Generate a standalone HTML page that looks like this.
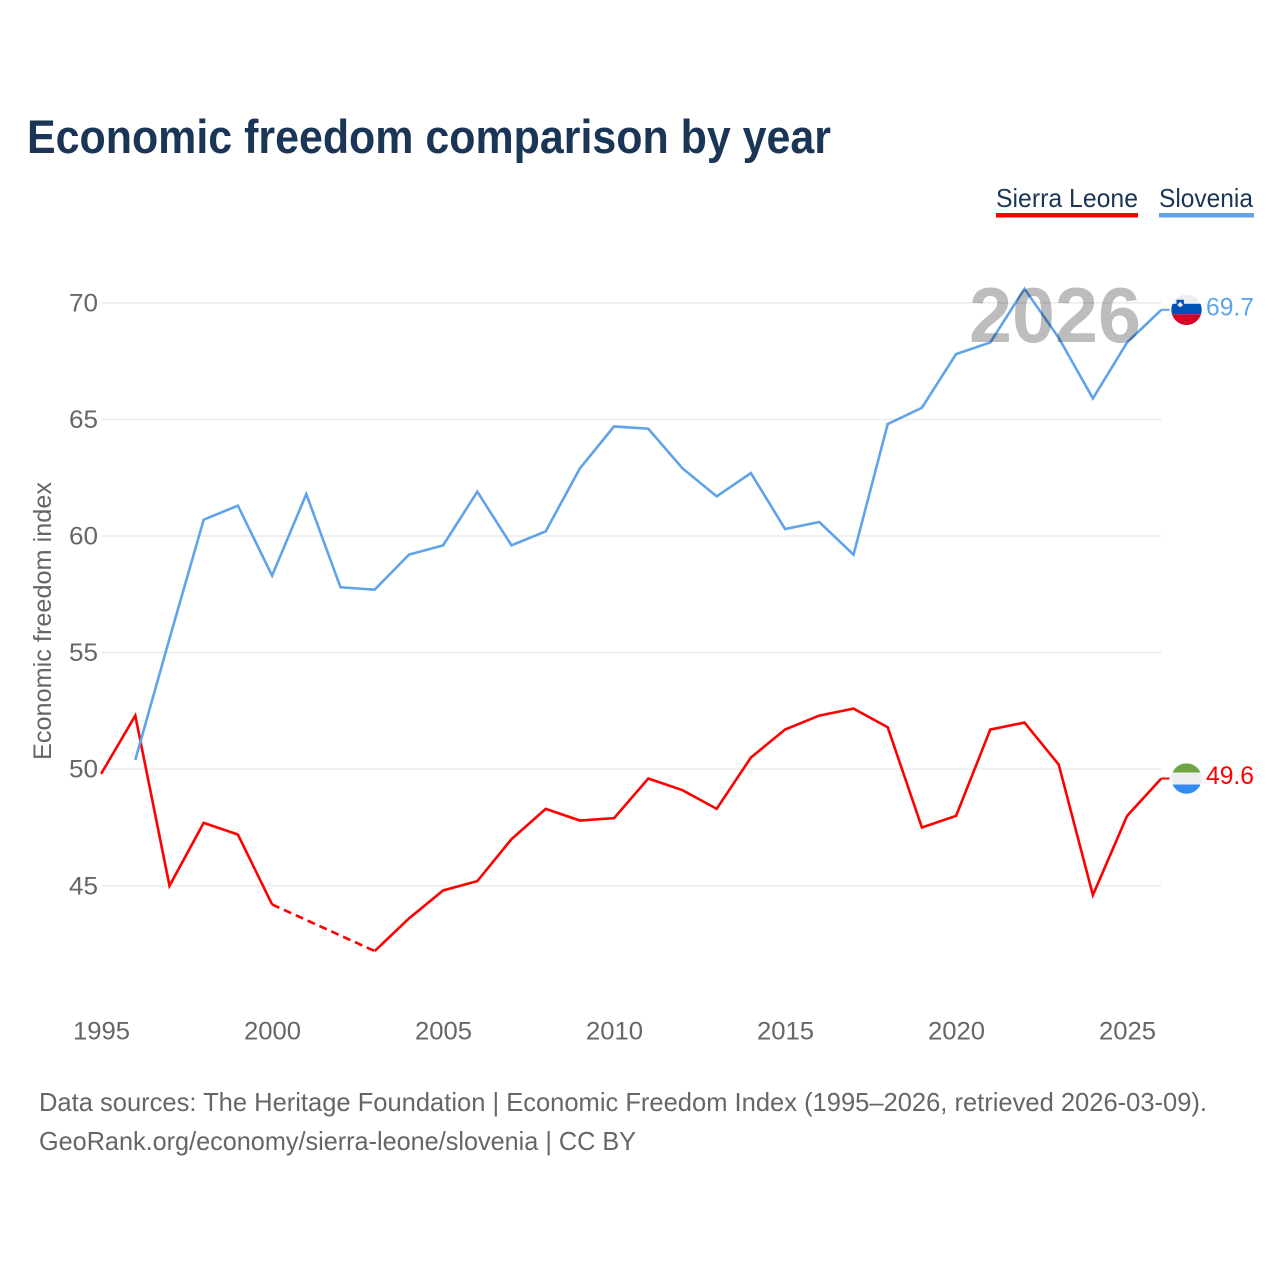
<!DOCTYPE html>
<html lang="en">
<head>
<meta charset="utf-8">
<title>Economic freedom comparison by year</title>
<style>
html,body{margin:0;padding:0;background:#fff;}
svg{display:block;}
text{font-family:"Liberation Sans",sans-serif;}
</style>
</head>
<body>
<svg id="chart" xmlns="http://www.w3.org/2000/svg" width="1280" height="1280" viewBox="0 0 1280 1280">
  <rect width="1280" height="1280" fill="#fff"/>
  <text x="27" y="153" font-size="47" font-weight="700" fill="#1a3555" textLength="804" lengthAdjust="spacingAndGlyphs">Economic freedom comparison by year</text>

  <text x="996" y="207" font-size="26" fill="#1a3555" textLength="142" lengthAdjust="spacingAndGlyphs">Sierra Leone</text>
  <rect x="996" y="213" width="142" height="4.5" fill="#ff0000"/>
  <text x="1159" y="207" font-size="26" fill="#1a3555" textLength="94" lengthAdjust="spacingAndGlyphs">Slovenia</text>
  <rect x="1159" y="213" width="95" height="4.5" fill="#5fa4ea"/>

  <g id="grid"></g>
  <g id="yticks"></g>
  <g id="xticks"></g>
  <text transform="translate(51,760) rotate(-90)" font-size="25" fill="#666" textLength="278" lengthAdjust="spacingAndGlyphs">Economic freedom index</text>
  <g id="series"></g>
  <text x="969" y="342" font-size="78" font-weight="700" fill="#000" fill-opacity="0.26" textLength="172" lengthAdjust="spacingAndGlyphs">2026</text>
  <g id="ends"></g>

  <text x="39" y="1111" font-size="26" fill="#666" textLength="1168" lengthAdjust="spacingAndGlyphs">Data sources: The Heritage Foundation | Economic Freedom Index (1995–2026, retrieved 2026-03-09).</text>
  <text x="39" y="1150" font-size="26" fill="#666" textLength="597" lengthAdjust="spacingAndGlyphs">GeoRank.org/economy/sierra-leone/slovenia | CC BY</text>
</svg>
<script>
const years = [1995,1996,1997,1998,1999,2000,2001,2002,2003,2004,2005,2006,2007,2008,2009,2010,2011,2012,2013,2014,2015,2016,2017,2018,2019,2020,2021,2022,2023,2024,2025,2026];
const sierraLeone = [49.8,52.3,45.0,47.7,47.2,44.2,null,null,42.2,43.6,44.8,45.2,47.0,48.3,47.8,47.9,49.6,49.1,48.3,50.5,51.7,52.3,52.6,51.8,47.5,48.0,51.7,52.0,50.2,44.6,48.0,49.6];
const slovenia = [null,50.4,55.6,60.7,61.3,58.3,61.8,57.8,57.7,59.2,59.6,61.9,59.6,60.2,62.9,64.7,64.6,62.9,61.7,62.7,60.3,60.6,59.2,64.8,65.5,67.8,68.3,70.6,68.5,65.9,68.3,69.7];
const yTickValues = [45,50,55,60,65,70];
const xTickValues = [1995,2000,2005,2010,2015,2020,2025];

const NS = 'http://www.w3.org/2000/svg';
const xScale = function (year) { return 101.1 + (year - 1995) * 34.2; };
const yScale = function (value) { return 885.8 - (value - 45) * 23.32; };
const plotRight = xScale(2026);

function mk(parent, tag, props, content) {
  const el = document.createElementNS(NS, tag);
  Object.keys(props).forEach(function (k) { el.setAttribute(k, props[k]); });
  if (content !== undefined) el.textContent = content;
  parent.appendChild(el);
  return el;
}

const gridG = document.getElementById('grid');
const yG = document.getElementById('yticks');
const xG = document.getElementById('xticks');
const seriesG = document.getElementById('series');
const endsG = document.getElementById('ends');

yTickValues.forEach(function (v) {
  const line = mk(gridG, 'line', {x1: 101.5, x2: plotRight, y1: yScale(v), y2: yScale(v), stroke: '#ececec', 'stroke-width': 1.6});
  
  
  const label = mk(yG, 'text', {x: 98, y: yScale(v) + 8.5, 'font-size': 25, fill: '#666', 'text-anchor': 'end', textLength: 29, lengthAdjust: 'spacingAndGlyphs'}, String(v));
  
  
});

xTickValues.forEach(function (y) {
  const label = mk(xG, 'text', {x: xScale(y) + 0.4, y: 1039.5, 'font-size': 25, fill: '#666', 'text-anchor': 'middle', textLength: 57, lengthAdjust: 'spacingAndGlyphs'}, String(y));
  
  
});

function drawSeries(values, color, slug) {
  let run = [];
  let prev = null;
  const flush = function () {
    if (run.length > 1) {
      const solid = mk(seriesG, 'polyline', {points: run.join(' '), fill: 'none', stroke: color, 'stroke-width': 2.6, 'stroke-linejoin': 'miter'});
      
      
    }
    run = [];
  };
  values.forEach(function (v, i) {
    if (v === null) { return; }
    const pt = xScale(years[i]) + ',' + yScale(v);
    if (prev !== null && prev !== i - 1) {
      flush();
      const gap = mk(seriesG, 'line', {x1: xScale(years[prev]), y1: yScale(values[prev]), x2: xScale(years[i]), y2: yScale(v), stroke: color, 'stroke-width': 2.6, 'stroke-dasharray': '8 5'});
      
      
    }
    run.push(pt);
    prev = i;
  });
  flush();
}

function drawEnd(values, color, slug, stripes) {
  const last = values[values.length - 1];
  const y = yScale(last);
  const connector = mk(endsG, 'line', {x1: plotRight, x2: 1169.5, y1: y, y2: y, stroke: color, 'stroke-width': 2});
  
  

  const cx = 1186.5;
  const clipId = 'clip-' + slug;
  const clip = mk(endsG, 'clipPath', {id: clipId});
  mk(clip, 'circle', {cx: cx, cy: y, r: 15.2});
  const flag = mk(endsG, 'g', {'clip-path': 'url(#' + clipId + ')'});
  
  
  stripes.forEach(function (s) {
    mk(flag, 'rect', {x: cx - 16, y: y - 16 + s[0], width: 32, height: s[1], fill: s[2]});
  });
  if (slug === 'slovenia') {
    mk(flag, 'path', {d: 'M' + (cx - 10) + ' ' + (y - 10) + 'h7.4v6l-3.7 3l-3.7-3z', fill: '#0052b4'});
    mk(flag, 'path', {d: 'M' + (cx - 9) + ' ' + (y - 5) + 'l2.7-3l2.7 3v0.5l-2.7 2l-2.7-2z', fill: '#eeeeee'});
  }
  const label = mk(endsG, 'text', {x: 1206, y: y + 5.5, 'font-size': 25, fill: color, textLength: 48, lengthAdjust: 'spacingAndGlyphs'}, last.toFixed(1));
  
  
}

drawSeries(sierraLeone, '#ff0000', 'sierra-leone');
drawSeries(slovenia, '#5fa4ea', 'slovenia');
drawEnd(slovenia, '#5fa4ea', 'slovenia', [[0, 10, '#eeeeee'], [10, 10.5, '#0052b4'], [20.5, 12, '#d80027']]);
drawEnd(sierraLeone, '#ff0000', 'sierra-leone', [[0, 10, '#6da544'], [10, 12, '#eeeeee'], [22, 11, '#338af3']]);
</script>
</body>
</html>
